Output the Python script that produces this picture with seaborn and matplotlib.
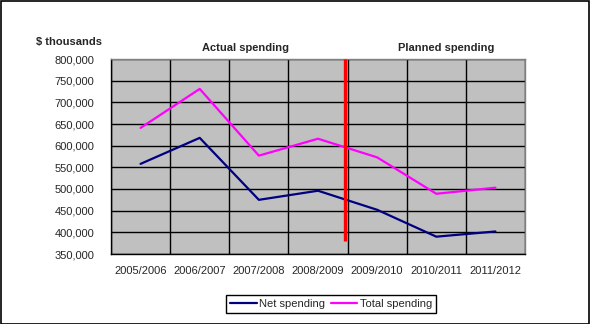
import matplotlib
matplotlib.use("Agg")
import matplotlib.pyplot as plt
import matplotlib.ticker as mticker
from matplotlib.patches import Rectangle
import seaborn as sns
import pandas as pd
import numpy as np

# Fiscal years on the category axis
years = ["2005/2006", "2006/2007", "2007/2008", "2008/2009",
         "2009/2010", "2010/2011", "2011/2012"]
# Spending in $ thousands
net_spending = [558000, 618000, 475000, 496000, 452000, 390000, 402000]
total_spending = [641000, 731000, 577000, 616000, 573000, 489000, 503000]

series_names = ["Net spending", "Total spending"]
series_colors = ["#000080", "#FF00FF"]

df = pd.DataFrame({
    "year": years * 2,
    "value": net_spending + total_spending,
    "series": [series_names[0]] * len(years) + [series_names[1]] * len(years),
})

sns.set_theme(style="white")
plt.rcParams["font.family"] = ["Liberation Sans", "DejaVu Sans"]

fig = plt.figure(figsize=(5.90, 3.24), dpi=100)
ax = fig.add_axes([111 / 590, 1 - 254 / 324, 414 / 590, 195 / 324])
ax.set_facecolor("#C0C0C0")

sns.lineplot(data=df, x="year", y="value", hue="series",
             palette=dict(zip(series_names, series_colors)),
             linewidth=1.6, ax=ax, legend=False, sort=False)

# Divider between actual and planned years
ax.vlines(3.45, 380000, 800000, color="#FF0000", linewidth=2.4, zorder=5)

ax.set_xlim(-0.5, len(years) - 0.5)
ax.set_ylim(350000, 800000)

# y axis
ax.yaxis.set_major_locator(mticker.MultipleLocator(50000))
ax.yaxis.set_major_formatter(mticker.FuncFormatter(lambda v, p: f"{int(v):,}"))
ax.tick_params(axis="y", which="major", direction="out", length=4, width=1,
               color="black", labelsize=8, pad=8)

# x axis: ticks and grid at category boundaries, labels centred
positions = np.arange(len(years))
ax.set_xticks(positions, minor=True)
ax.set_xticklabels(years, minor=True)
ax.set_xticks(list(positions - 0.5) + [len(years) - 0.5])
ax.set_xticklabels([""] * (len(years) + 1))
ax.tick_params(axis="x", which="major", direction="out", length=4, width=1,
               color="black")
ax.tick_params(axis="x", which="minor", length=0, labelsize=8, pad=9)

ax.grid(True, which="major", axis="both", color="black", linewidth=1)
ax.set_axisbelow(True)
ax.set_xlabel("")
ax.set_ylabel("")

for side in ["left", "bottom"]:
    ax.spines[side].set_color("black")
    ax.spines[side].set_linewidth(1)
for side in ["top", "right"]:
    ax.spines[side].set_color("#808080")
    ax.spines[side].set_linewidth(1)

# Titles
fig.text(36 / 590, 1 - 42.5 / 324, "$ thousands", fontsize=8, fontweight="bold",
         va="center", ha="left")
fig.text(245 / 590, 1 - 48 / 324, "Actual spending", fontsize=8,
         fontweight="bold", va="center", ha="center")
fig.text(446 / 590, 1 - 48 / 324, "Planned spending", fontsize=8,
         fontweight="bold", va="center", ha="center")

# Legend
handles = [plt.Line2D([], [], color=c, linewidth=1.6) for c in series_colors]
leg = fig.legend(handles, series_names, loc="center",
                 bbox_to_anchor=(331 / 590, 1 - 304 / 324), ncol=2,
                 fontsize=8, frameon=True, fancybox=False, framealpha=1,
                 edgecolor="black", handlelength=2.4, handletextpad=0.2,
                 columnspacing=0.5, borderpad=0.35, borderaxespad=0)
leg.get_frame().set_linewidth(1)

# Outer border
fig.patches.append(Rectangle((0.001, 0.001), 0.997, 0.996, transform=fig.transFigure,
                             fill=False, edgecolor="black", linewidth=1.2))

fig.savefig("out.png", dpi=100, facecolor="white")
